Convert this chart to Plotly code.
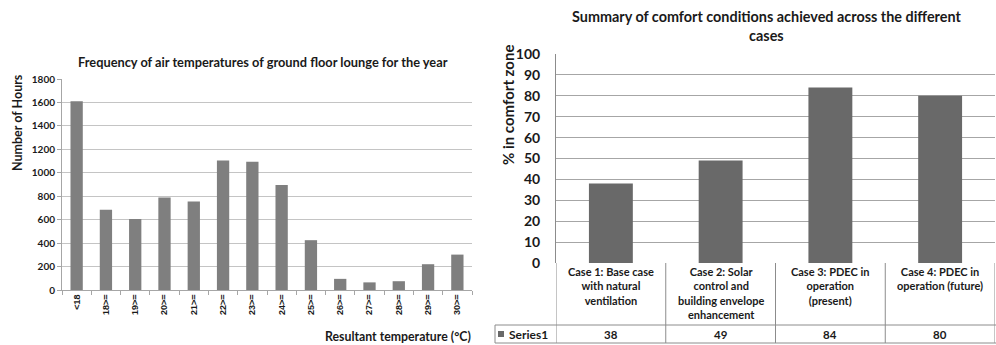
import plotly.graph_objects as go

# ---- data ----
temp_bins = ["<18", "18>=", "19>=", "20>=", "21>=", "22>=", "23>=", "24>=",
             "25>=", "26>=", "27>=", "28>=", "29>=", "30>="]
hours = [1610, 685, 605, 790, 755, 1105, 1095, 895, 425, 95, 65, 75, 220, 302]

cases = ["Case 1", "Case 2", "Case 3", "Case 4"]
case_labels = ["Case 1: Base case<br>with natural<br>ventilation",
               "Case 2: Solar<br>control and<br>building envelope<br>enhancement",
               "Case 3: PDEC in<br>operation<br>(present)",
               "Case 4: PDEC in<br>operation (future)"]
comfort = [38, 49, 84, 80]
series_name = "Series1"

W, H = 996, 345
FONT = "Lato"
TXT = "#1a1a1a"


def px(x):
    return x / W


def py(y):
    return (H - y) / H


fig = go.Figure()

fig.add_trace(go.Bar(x=temp_bins, y=hours, marker_color="#7f7f7f", width=0.42,
                     xaxis="x", yaxis="y", showlegend=False))
fig.add_trace(go.Bar(x=cases, y=comfort, marker_color="#696969", width=0.4,
                     xaxis="x2", yaxis="y2", showlegend=False))

annotations = []
shapes = []


def note(text, x, y, size, xref="paper", xanchor="center", yanchor="middle", angle=0, align="center"):
    annotations.append(dict(text=text, x=x, y=y, xref=xref, yref="paper", showarrow=False,
                            xanchor=xanchor, yanchor=yanchor, textangle=angle, align=align,
                            font=dict(family=FONT, size=size, color=TXT)))


# titles
note("<b>Frequency of air temperatures of ground floor lounge for the year</b>", px(263), py(62), 12.8)
note("<b>Summary of comfort conditions achieved across the different<br>cases</b>", px(766), py(26), 14.4)
# axis titles
note("<b>Number of Hours</b>", px(17), py(123), 12.5, angle=-90)
note("<b>Resultant temperature (°C)</b>", px(473), py(336), 12.3, xanchor="right")
note("<b>% in comfort zone</b>", px(508), py(105), 15, angle=-90)

# table for right chart
line_col = "#8c8c8c"
for c, lab, v in zip(cases, case_labels, comfort):
    note("<b>" + lab + "</b>", c, py(263), 11, xref="x2", yanchor="top")
    note("<b>%d</b>" % v, c, py(334), 11.5, xref="x2")
note("<b>" + series_name + "</b>", px(507), py(334), 12, xanchor="left")
shapes.append(dict(type="rect", xref="paper", yref="paper", x0=px(498), x1=px(504), y0=py(337), y1=py(331),
                   fillcolor="#696969", line=dict(width=0)))

for b in [-0.5, 0.5, 1.5, 2.5, 3.5]:
    shapes.append(dict(type="line", xref="x2", yref="paper", x0=b, x1=b, y0=py(263), y1=py(343),
                       line=dict(color=line_col, width=1)))
shapes.append(dict(type="line", xref="paper", yref="paper", x0=px(495), x1=px(495), y0=py(325), y1=py(343),
                   line=dict(color=line_col, width=1)))
shapes.append(dict(type="line", xref="paper", yref="paper", x0=px(495), x1=1, y0=py(325), y1=py(325),
                   line=dict(color=line_col, width=1)))
shapes.append(dict(type="line", xref="paper", yref="paper", x0=px(495), x1=1, y0=py(343), y1=py(343),
                   line=dict(color=line_col, width=1)))

fig.update_layout(
    template="none",
    width=W, height=H, margin=dict(l=0, r=0, t=0, b=0, pad=0, autoexpand=False),
    paper_bgcolor="white", plot_bgcolor="white",
    annotations=annotations, shapes=shapes,
    xaxis=dict(domain=[px(62), px(472)], anchor="y", type="category", tickangle=-90, automargin=False,
               tickfont=dict(family="Liberation Sans", size=9, color=TXT, weight="bold"),
               showline=True, linecolor="#a6a6a6", ticks="outside", tickson="boundaries",
               ticklen=4, tickcolor="#a6a6a6", showgrid=False, zeroline=False),
    yaxis=dict(domain=[py(290), py(79)], anchor="x", range=[0, 1800], dtick=200, automargin=False,
               tickfont=dict(family=FONT, size=10, color=TXT), tickprefix="<b>", ticksuffix="</b>",
               showline=True, linecolor="#a6a6a6", ticks="outside", ticklen=4, tickcolor="#a6a6a6",
               showgrid=True, gridcolor="#c4c4c4", zeroline=False),
    xaxis2=dict(domain=[px(556), px(995)], anchor="y2", type="category", showticklabels=False,
                automargin=False, showline=False, showgrid=False, zeroline=False, ticks="",
                range=[-0.5, 3.5]),
    yaxis2=dict(domain=[py(263), py(54)], anchor="x2", range=[0, 100], dtick=10, automargin=False,
                tickfont=dict(family=FONT, size=14, color=TXT), tickprefix="<b>", ticksuffix="</b>",
                showline=True, linecolor=line_col, ticks="", ticklabelstandoff=12,
                showgrid=True, gridcolor="#a6a6a6", zeroline=False),
)

fig.write_html("out.html")
